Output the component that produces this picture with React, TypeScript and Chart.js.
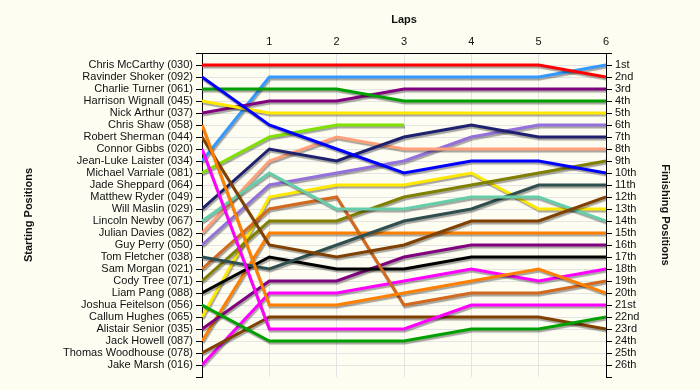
import React, { useEffect, useRef } from 'react';
import { Chart, registerables } from 'chart.js';

Chart.register(...registerables);

const laps = [0, 1, 2, 3, 4, 5, 6];

const startingGrid = [
  'Chris McCarthy (030)', 'Ravinder Shoker (092)', 'Charlie Turner (061)', 'Harrison Wignall (045)',
  'Nick Arthur (037)', 'Chris Shaw (058)', 'Robert Sherman (044)', 'Connor Gibbs (020)',
  'Jean-Luke Laister (034)', 'Michael Varriale (081)', 'Jade Sheppard (064)', 'Matthew Ryder (049)',
  'Will Maslin (029)', 'Lincoln Newby (067)', 'Julian Davies (082)', 'Guy Perry (050)',
  'Tom Fletcher (038)', 'Sam Morgan (021)', 'Cody Tree (071)', 'Liam Pang (088)',
  'Joshua Feitelson (056)', 'Callum Hughes (065)', 'Alistair Senior (035)', 'Jack Howell (087)',
  'Thomas Woodhouse (078)', 'Jake Marsh (016)',
];

const finishingLabels = [
  '1st', '2nd', '3rd', '4th', '5th', '6th', '7th', '8th', '9th', '10th', '11th', '12th', '13th',
  '14th', '15th', '16th', '17th', '18th', '19th', '20th', '21st', '22nd', '23rd', '24th', '25th', '26th',
];

// positions per lap (lap 0 = starting position)
const chrisMcCarthy = [1, 1, 1, 1, 1, 1, 2];
const ravinderShoker = [2, 6, 8, 10, 9, 9, 10];
const charlieTurner = [3, 3, 3, 4, 4, 4, 4];
const harrisonWignall = [4, 5, 5, 5, 5, 5, 5];
const nickArthur = [5, 4, 4, 3, 3, 3, 3];
const chrisShaw = [6, 21, 21, 20, 19, 18, 20];
const robertSherman = [7, 16, 17, 16, 14, 14, 12];
const connorGibbs = [8, 23, 23, 23, 21, 21, 21];
const jeanLukeLaister = [9, 2, 2, 2, 2, 2, 1];
const michaelVarriale = [10, 7, 6, 6, null, null, null];
const jadeSheppard = [null, null, null, null, null, null, null];
const matthewRyder = [null, null, null, null, null, null, null];
const willMaslin = [13, 8, 9, 7, 6, 7, 7];
const lincolnNewby = [14, 10, 13, 13, 12, 12, 14];
const julianDavies = [15, 9, 7, 8, 8, 8, 8];
const guyPerry = [16, 11, 10, 9, 7, 6, 6];
const tomFletcher = [17, 18, 16, 14, 13, 11, 11];
const samMorgan = [18, 13, 12, 21, 20, 20, 19];
const codyTree = [19, 14, 14, 12, 11, 10, 9];
const liamPang = [20, 17, 18, 18, 17, 17, 17];
const joshuaFeitelson = [21, 24, 24, 24, 23, 23, 22];
const callumHughes = [22, 12, 11, 11, 10, 13, 13];
const alistairSenior = [23, 19, 19, 17, 16, 16, 16];
const jackHowell = [24, 15, 15, 15, 15, 15, 15];
const thomasWoodhouse = [25, 22, 22, 22, 22, 22, 23];
const jakeMarsh = [26, 20, 20, 19, 18, 19, 18];

const driverPositions: (number | null)[][] = [
  chrisMcCarthy, ravinderShoker, charlieTurner, harrisonWignall, nickArthur, chrisShaw,
  robertSherman, connorGibbs, jeanLukeLaister, michaelVarriale, jadeSheppard, matthewRyder,
  willMaslin, lincolnNewby, julianDavies, guyPerry, tomFletcher, samMorgan, codyTree, liamPang,
  joshuaFeitelson, callumHughes, alistairSenior, jackHowell, thomasWoodhouse, jakeMarsh,
];

const lineColors = [
  '#FF0000', '#0000FF', '#00A000', '#FFE800', '#800080', '#FF8000', '#804000', '#FF00FF',
  '#3399FF', '#80E000', '#999999', '#999999', '#202070', '#66CDAA', '#FFA07A', '#9370DB',
  '#2F4F4F', '#D2691E', '#808000', '#000000', '#00A000', '#FFE800', '#800080', '#FF8000',
  '#804000', '#FF00FF',
];

const FONT = "'Liberation Sans', Arial, sans-serif";
const BG = '#FDFDF2';

const bgPlugin = {
  id: 'bg',
  beforeDraw(chart: any) {
    const { ctx, width, height } = chart;
    ctx.save();
    ctx.fillStyle = BG;
    ctx.fillRect(0, 0, width, height);
    ctx.restore();
  },
};

const shadowPlugin = {
  id: 'lineShadow',
  beforeDatasetDraw(chart: any) {
    const ctx = chart.ctx;
    ctx.save();
    ctx.shadowColor = 'rgba(0,0,0,0.35)';
    ctx.shadowOffsetX = 1;
    ctx.shadowOffsetY = 2;
    ctx.shadowBlur = 1;
  },
  afterDatasetDraw(chart: any) {
    chart.ctx.restore();
  },
};

export default function App() {
  const ref = useRef<HTMLCanvasElement | null>(null);

  useEffect(() => {
    document.body.style.margin = '0';
    document.body.style.background = BG;
    const canvas = ref.current;
    if (!canvas) return;

    const datasets = driverPositions
      .map((pos, i) => ({
        label: startingGrid[i],
        data: laps.map((lap, j) => ({ x: lap, y: pos[j] })),
        borderColor: lineColors[i],
        backgroundColor: lineColors[i],
        borderWidth: 3,
        pointRadius: 0,
        tension: 0,
        spanGaps: false,
        hidden: pos.every((v) => v === null),
      }));

    const yCommon = {
      type: 'linear' as const,
      min: 0,
      max: 27,
      reverse: true,
    };

    const chart = new Chart(canvas, {
      type: 'line',
      data: { datasets: datasets as any },
      options: {
        animation: false,
        responsive: false,
        layout: { padding: { top: 0, left: 0, right: 0, bottom: 13 } },
        plugins: { legend: { display: false }, tooltip: { enabled: false } },
        scales: {
          x: {
            type: 'linear',
            position: 'top',
            min: 0,
            max: 6,
            afterFit: (s: any) => { s.height = 53; },
            ticks: {
              stepSize: 1,
              padding: 4,
              color: '#111',
              font: { family: FONT, size: 11 },
              callback: (v: any) => (v === 0 ? '' : String(v)),
            },
            grid: { color: '#E4E4E4', drawTicks: false },
            border: { display: true, color: '#000', width: 1 },
            title: {
              display: true,
              text: 'Laps',
              color: '#111',
              font: { family: FONT, size: 11, weight: 'bold' },
              padding: { top: 13, bottom: 0 },
            },
          },
          y: {
            ...yCommon,
            position: 'left',
            afterFit: (s: any) => { s.width = 202; },
            ticks: {
              stepSize: 1,
              autoSkip: false,
              padding: 3,
              color: '#111',
              font: { family: FONT, size: 11 },
              callback: (v: any) => startingGrid[v - 1] ?? '',
            },
            grid: {
              color: (c: any) => (c.tick && (c.tick.value === 27 || c.tick.value === 0) ? 'rgba(0,0,0,0)' : '#E4E4E4'),
              tickColor: '#000',
              tickLength: 6,
            },
            border: { display: true, color: '#000', width: 1 },
            title: {
              display: true,
              text: 'Starting Positions',
              color: '#111',
              font: { family: FONT, size: 11, weight: 'bold' },
              padding: { top: 22, bottom: 0 },
            },
          },
          y2: {
            ...yCommon,
            position: 'right',
            afterFit: (s: any) => { s.width = 94; },
            ticks: {
              stepSize: 1,
              autoSkip: false,
              padding: 3,
              color: '#111',
              font: { family: FONT, size: 11 },
              callback: (v: any) => finishingLabels[v - 1] ?? '',
            },
            grid: {
              drawOnChartArea: false,
              color: '#000',
              tickColor: '#000',
              tickLength: 6,
            },
            border: { display: true, color: '#000', width: 1 },
            title: {
              display: true,
              text: 'Finishing Positions',
              color: '#111',
              font: { family: FONT, size: 11, weight: 'bold' },
              padding: { top: 28, bottom: 0 },
            },
          },
        },
      } as any,
      plugins: [bgPlugin, shadowPlugin],
    });

    return () => chart.destroy();
  }, []);

  return (
    <div style={{ width: 700, height: 390 }}>
      <canvas ref={ref} width={700} height={390} style={{ display: 'block', width: 700, height: 390 }} />
    </div>
  );
}
